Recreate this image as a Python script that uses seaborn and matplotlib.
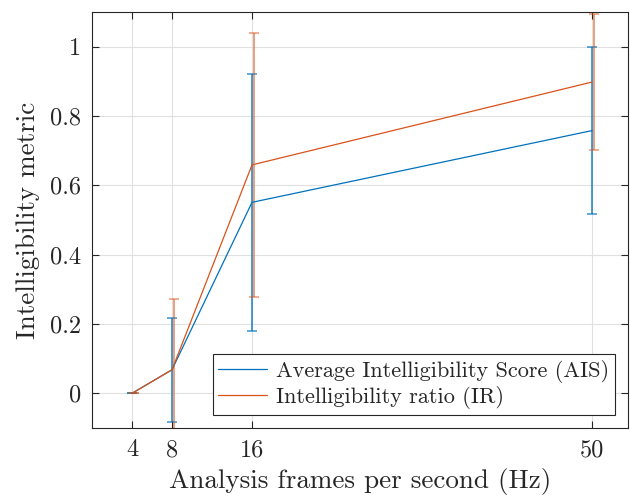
import matplotlib
matplotlib.use("Agg")
import matplotlib.pyplot as plt
import seaborn as sns
import pandas as pd
import numpy as np

# Data
frames = [4, 8, 16, 50]
ais_mean = [0.0, 0.068, 0.551, 0.758]
ais_err = [0.0, 0.150, 0.370, 0.240]
ir_mean = [0.0, 0.068, 0.659, 0.898]
ir_err = [0.0, 0.205, 0.380, 0.195]
series_names = ["Average Intelligibility Score (AIS)", "Intelligibility ratio (IR)"]
ytick_vals = [0, 0.2, 0.4, 0.6, 0.8, 1.0]
ytick_labels = ["0", "0.2", "0.4", "0.6", "0.8", "1"]

blue = (0.0, 0.447, 0.741)
orange = (0.85, 0.325, 0.098)
dark = (0.15, 0.15, 0.15)

sns.set_theme(style="whitegrid")
plt.rcParams["font.family"] = ["cmr10", "DejaVu Serif"]
plt.rcParams["mathtext.fontset"] = "cm"
plt.rcParams["axes.unicode_minus"] = False
plt.rcParams["axes.formatter.use_mathtext"] = True

df = pd.DataFrame({
    "x": frames * 2,
    "y": ais_mean + ir_mean,
    "series": [series_names[0]] * 4 + [series_names[1]] * 4,
})

fig = plt.figure(figsize=(6.3, 5.0), dpi=100)
ax = fig.add_axes([0.146, 0.144, 0.851, 0.832])

sns.lineplot(data=df, x="x", y="y", hue="series", palette=[blue, orange],
             linewidth=0.9, ax=ax, legend=True, zorder=3)

ax.errorbar(frames, ais_mean, yerr=ais_err, fmt="none", ecolor=blue,
            elinewidth=1.4, capsize=3.5, capthick=1.2, alpha=0.7, zorder=2)
ax.errorbar([f + 0.17 for f in frames], ir_mean, yerr=ir_err, fmt="none",
            ecolor=orange, elinewidth=1.4, capsize=3.5, capthick=1.2,
            alpha=0.55, zorder=2)

ax.set_xlim(0, 53.6)
ax.set_ylim(-0.1, 1.1)
ax.set_xticks(frames)
ax.set_xticklabels([str(f) for f in frames])
ax.set_yticks(ytick_vals)
ax.set_yticklabels(ytick_labels)

ax.grid(True, color=(0.88, 0.88, 0.88), linewidth=0.8)
ax.set_axisbelow(True)
for s in ax.spines.values():
    s.set_visible(True)
    s.set_color(dark)
    s.set_linewidth(0.8)
ax.tick_params(axis="both", which="both", direction="in", length=5,
               width=0.8, color=dark, labelcolor=dark, labelsize=17.5,
               top=True, right=True, bottom=True, left=True, pad=8)
ax.set_facecolor("white")

ax.set_xlabel("Analysis frames per second (Hz)", fontsize=19.5, color=dark, labelpad=5)
ax.set_ylabel("Intelligibility metric", fontsize=19.5, color=dark, labelpad=7)

leg = ax.legend(loc="lower right", fontsize=16, frameon=True, fancybox=False,
                edgecolor=dark, framealpha=1, borderaxespad=0.6,
                handlelength=2.2, handletextpad=0.4, borderpad=0.25,
                labelspacing=0.15)
leg.get_frame().set_linewidth(0.8)
for t in leg.get_texts():
    t.set_color(dark)

fig.savefig("out.png", dpi=100, facecolor="white")
